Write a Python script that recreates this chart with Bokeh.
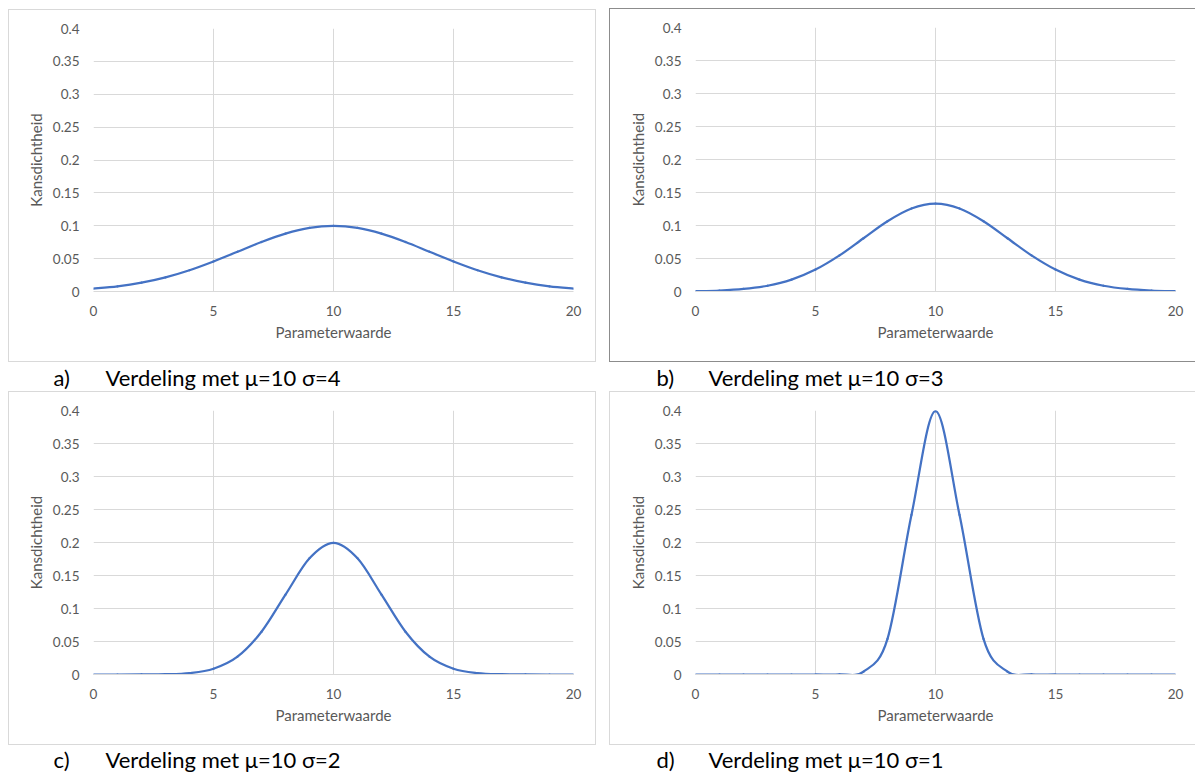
from bokeh.plotting import figure
from bokeh.layouts import column, row
from bokeh.models import Range1d, FixedTicker, NumeralTickFormatter, Label
from bokeh.embed import file_html
from bokeh.resources import INLINE

# ---------------- data ----------------
x_values = list(range(0, 21))
y_sigma4 = [0.0044, 0.0079, 0.0135, 0.0216, 0.0324, 0.0457, 0.0605, 0.0753, 0.0880, 0.0967, 0.0997,
            0.0967, 0.0880, 0.0753, 0.0605, 0.0457, 0.0324, 0.0216, 0.0135, 0.0079, 0.0044]
y_sigma3 = [0.0005, 0.0015, 0.0038, 0.0087, 0.0180, 0.0332, 0.0547, 0.0807, 0.1065, 0.1258, 0.1330,
            0.1258, 0.1065, 0.0807, 0.0547, 0.0332, 0.0180, 0.0087, 0.0038, 0.0015, 0.0005]
y_sigma2 = [0.0000, 0.0000, 0.0001, 0.0004, 0.0022, 0.0088, 0.0270, 0.0648, 0.1210, 0.1760, 0.1995,
            0.1760, 0.1210, 0.0648, 0.0270, 0.0088, 0.0022, 0.0004, 0.0001, 0.0000, 0.0000]
y_sigma1 = [0.0000, 0.0000, 0.0000, 0.0000, 0.0000, 0.0000, 0.0001, 0.0044, 0.0540, 0.2420, 0.3989,
            0.2420, 0.0540, 0.0044, 0.0001, 0.0000, 0.0000, 0.0000, 0.0000, 0.0000, 0.0000]

x_ticks = [0, 5, 10, 15, 20]
y_ticks = [0, 0.05, 0.1, 0.15, 0.2, 0.25, 0.3, 0.35, 0.4]
x_title = "Parameterwaarde"
y_title = "Kansdichtheid"
caption_letters = ["a)", "b)", "c)", "d)"]
caption_texts = ["Verdeling met μ=10 σ=4", "Verdeling met μ=10 σ=3",
                 "Verdeling met μ=10 σ=2", "Verdeling met μ=10 σ=1"]

LINE = "#4472C4"
GRID = "#d9d9d9"
TICK = "#595959"
FONT = "Lato"
CAP_FONT = "Lato"


def smooth(xs, ys):
    n = len(xs)
    out = {k: [] for k in ("x0", "y0", "x1", "y1", "cx0", "cy0", "cx1", "cy1")}
    for i in range(n - 1):
        a = max(i - 1, 0)
        b = min(i + 2, n - 1)
        out["x0"].append(xs[i]); out["y0"].append(ys[i])
        out["x1"].append(xs[i + 1]); out["y1"].append(ys[i + 1])
        out["cx0"].append(xs[i] + (xs[i + 1] - xs[a]) / 6.0)
        out["cy0"].append(ys[i] + (ys[i + 1] - ys[a]) / 6.0)
        out["cx1"].append(xs[i + 1] - (xs[b] - xs[i]) / 6.0)
        out["cy1"].append(ys[i + 1] - (ys[b] - ys[i]) / 6.0)
    return out


def panel(ys, width, height, left, right, top, bottom, styles, margin):
    p = figure(width=width, height=height, output_backend="svg", toolbar_location=None,
               x_range=Range1d(0, 20), y_range=Range1d(0, 0.4),
               min_border_left=left, min_border_right=right,
               min_border_top=top, min_border_bottom=bottom,
               background_fill_color="white", border_fill_color="white",
               styles=styles, margin=margin)
    p.outline_line_color = None
    p.xaxis.ticker = FixedTicker(ticks=x_ticks)
    p.yaxis.ticker = FixedTicker(ticks=y_ticks)
    p.yaxis.formatter = NumeralTickFormatter(format="0.[00]")
    for ax in (p.xaxis, p.yaxis):
        ax.major_tick_line_color = None
        ax.minor_tick_line_color = None
        ax.major_label_text_font = FONT
        ax.major_label_text_font_size = "13.5px"
        ax.major_label_text_color = TICK
        ax.axis_label_text_font = FONT
        ax.axis_label_text_font_size = "15px"
        ax.axis_label_text_color = TICK
        ax.axis_label_text_font_style = "normal"
    p.xaxis.axis_line_color = GRID
    p.yaxis.axis_line_color = None
    p.xaxis.major_label_standoff = 8
    p.yaxis.major_label_standoff = 8
    p.xaxis.axis_label = x_title
    p.yaxis.axis_label = y_title
    p.xaxis.axis_label_standoff = 4
    p.yaxis.axis_label_standoff = 5
    p.xgrid.ticker = FixedTicker(ticks=x_ticks)
    p.ygrid.ticker = FixedTicker(ticks=y_ticks)
    p.grid.grid_line_color = GRID
    p.grid.grid_line_width = 1
    seg = smooth(x_values, ys)
    p.bezier(x0=seg["x0"], y0=seg["y0"], x1=seg["x1"], y1=seg["y1"],
             cx0=seg["cx0"], cy0=seg["cy0"], cx1=seg["cx1"], cy1=seg["cy1"],
             line_color=LINE, line_width=2.25, line_cap="round")
    return p


def caption(letter, text, width, height, ymid, margin):
    c = figure(width=width, height=height, output_backend="svg", toolbar_location=None,
               x_range=Range1d(0, 1), y_range=Range1d(0, 1), x_axis_type=None, y_axis_type=None,
               min_border=0, margin=margin)
    c.outline_line_color = None
    c.grid.visible = False
    c.add_layout(Label(x=45, y=ymid, x_units="screen", y_units="screen", text=letter,
                       text_font=CAP_FONT, text_font_size="22px", text_color="black",
                       text_baseline="middle"))
    c.add_layout(Label(x=97, y=ymid, x_units="screen", y_units="screen", text=text,
                       text_font=CAP_FONT, text_font_size="22px", text_color="black",
                       text_baseline="middle"))
    return c


def box_style(color, right=True):
    s = {"border-top": f"1px solid {color}", "border-bottom": f"1px solid {color}",
         "border-left": f"1px solid {color}"}
    if right:
        s["border-right"] = f"1px solid {color}"
    return s


pa = panel(y_sigma4, 588, 353, 84, 24, 17, 72, box_style(GRID), (1, 0, 0, 0))
pb = panel(y_sigma3, 586, 354, 85, 21, 18, 72, box_style("#8c8c8c", right=False), (0, 0, 0, 13))
pc = panel(y_sigma2, 588, 354, 84, 24, 18, 72, box_style(GRID), (0, 0, 0, 0))
pd = panel(y_sigma1, 586, 354, 85, 21, 18, 72, box_style(GRID, right=False), (0, 0, 0, 13))

ca = caption(caption_letters[0], caption_texts[0], 590, 29, 14, (0, 0, 0, 0))
cb = caption(caption_letters[1], caption_texts[1], 587, 29, 14, (0, 0, 0, 13))
cc = caption(caption_letters[2], caption_texts[2], 590, 28, 14, (0, 0, 0, 0))
cd = caption(caption_letters[3], caption_texts[3], 587, 28, 14, (0, 0, 0, 13))

layout = column(row(pa, pb), row(ca, cb), row(pc, pd), row(cc, cd), margin=(8, 0, 0, 8))

open("out.html", "w").write(file_html(layout, INLINE))
